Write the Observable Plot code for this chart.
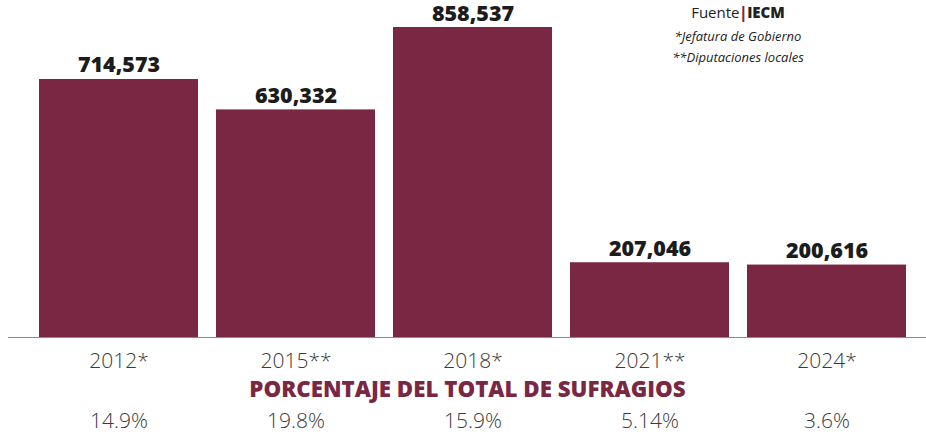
<!DOCTYPE html>
<html>
<head>
<meta charset="utf-8">
<script src="https://cdn.jsdelivr.net/npm/d3@7"></script>
<script src="https://cdn.jsdelivr.net/npm/@observablehq/plot@0.6"></script>
<style>
  body { margin: 0; background: #fff; }
  #wrap { position: relative; width: 926px; height: 439px; font-family: "Open Sans", sans-serif; }
  #fuente { position: absolute; top: 3px; left: 660px; width: 156px; text-align: center; color: #222; }
  #fuente .f { font-size: 15px; line-height: 19px; }
  #fuente .f b { font-weight: 800; }
  #fuente .f .bar { color: #7a2744; font-weight: 800; }
  #fuente .n { font-size: 13px; font-style: italic; line-height: 21px; }
  svg { font-family: "Open Sans", sans-serif; overflow: visible; }
</style>
</head>
<body>
<div id="wrap">
  <div id="chart"></div>
  <div id="fuente">
    <div class="f">Fuente<span class="bar">|</span><b>IECM</b></div>
    <div class="n" style="margin-top:4px">*Jefatura de Gobierno</div>
    <div class="n">**Diputaciones locales</div>
  </div>
</div>
<script>
const years = ["2012*", "2015**", "2018*", "2021**", "2024*"];
const votes = [714573, 630332, 858537, 207046, 200616];
const pcts = ["14.9%", "19.8%", "15.9%", "5.14%", "3.6%"];
const subtitle = "PORCENTAJE DEL TOTAL DE SUFRAGIOS";

const data = years.map((y, i) => ({year: y, votes: votes[i], pct: pcts[i]}));
const fmt = d3.format(",");
const maroon = "#7a2744";

const chart = Plot.plot({
  width: 926,
  height: 439,
  marginTop: 27,
  marginBottom: 102,
  marginLeft: 8,
  marginRight: 0,
  x: {domain: years, paddingInner: 0.1017, paddingOuter: 0.144, align: 0.608, axis: null},
  y: {domain: [0, 858537], axis: null},
  marks: [
    Plot.barY(data, {x: "year", y: "votes", fill: maroon}),
    Plot.ruleY([0], {stroke: "#8a8a8a", strokeWidth: 1.2}),
    Plot.text(data, {x: "year", y: "votes", text: d => fmt(d.votes), dy: -7, lineAnchor: "bottom",
      fontSize: 21.5, fontWeight: 800, fill: "#1c1c1c"}),
    Plot.text(data, {x: "year", text: "year", frameAnchor: "bottom", dy: 30,
      fontSize: 21, fontWeight: 300, fill: "#3a3a3a"}),
    Plot.text([subtitle], {text: d => d, frameAnchor: "bottom", dy: 59,
      fontSize: 22.3, fontWeight: 800, fill: maroon}),
    Plot.text(data, {x: "year", text: "pct", frameAnchor: "bottom", dy: 90,
      fontSize: 21, fontWeight: 300, fill: "#3a3a3a"})
  ]
});
document.getElementById("chart").appendChild(chart);
</script>
</body>
</html>
